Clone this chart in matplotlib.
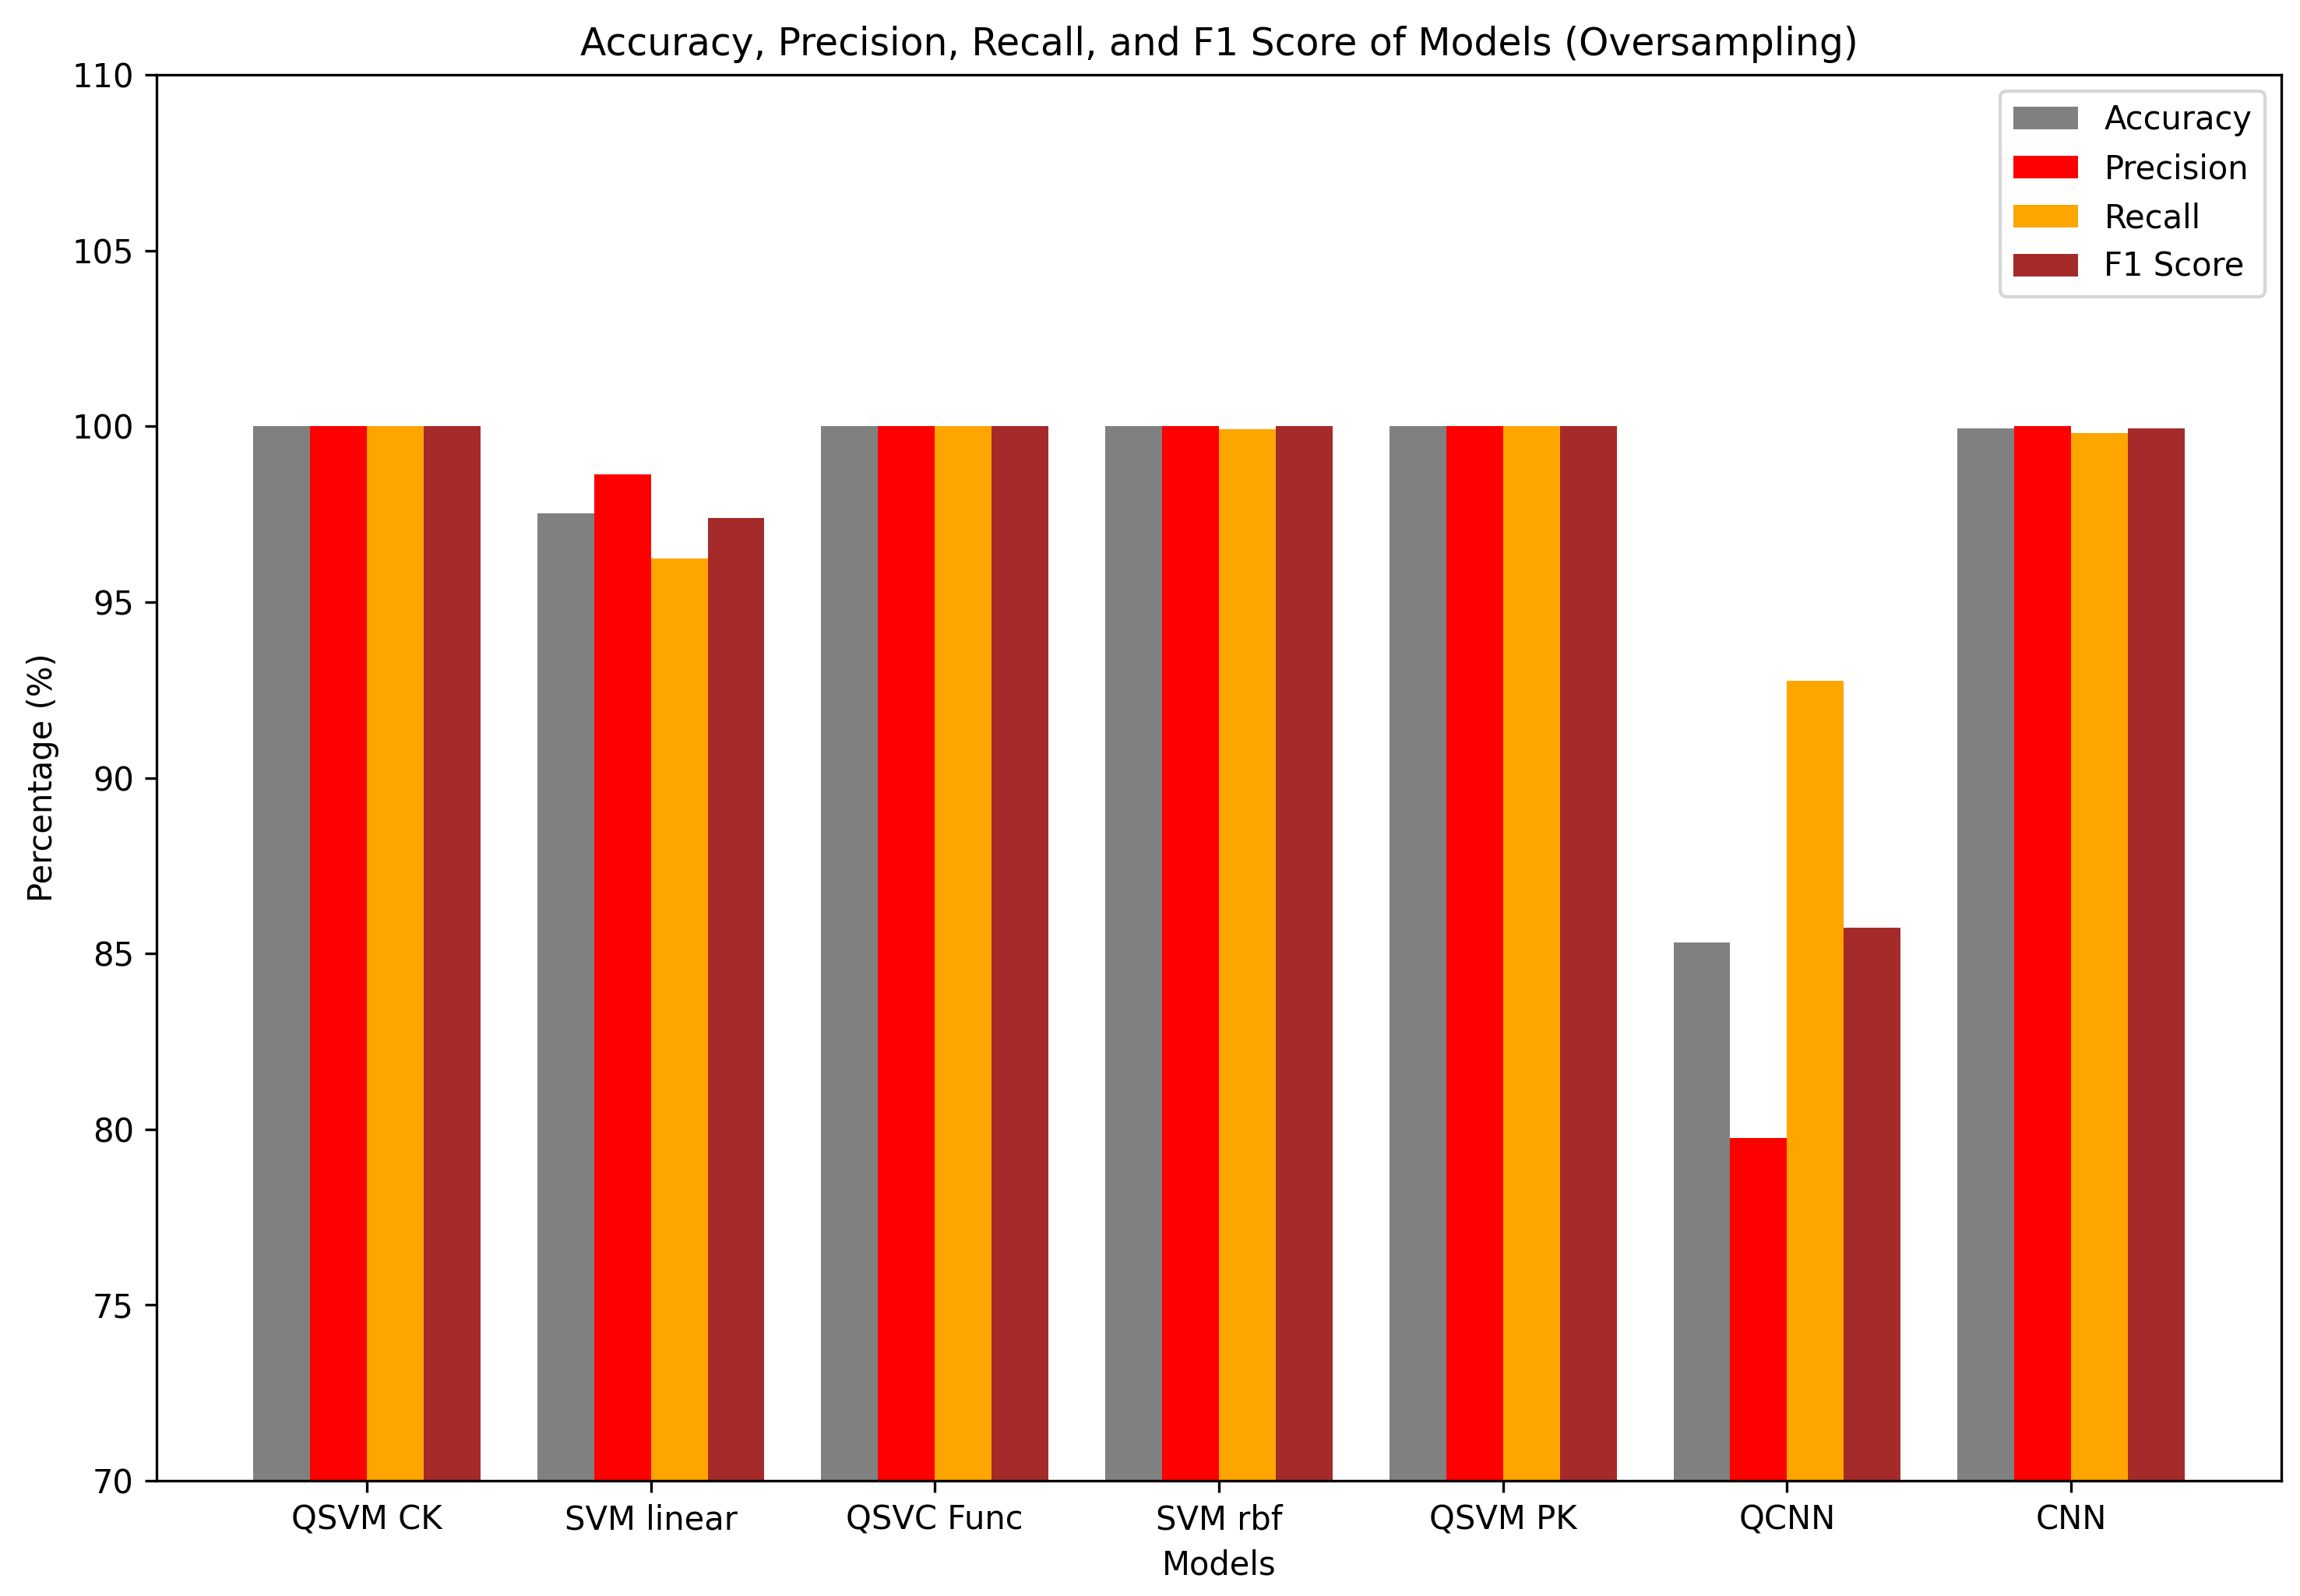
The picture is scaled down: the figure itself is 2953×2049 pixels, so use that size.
import numpy as np
import matplotlib
matplotlib.use("Agg")
import matplotlib.pyplot as plt

models = ["QSVM CK", "SVM linear", "QSVC Func", "SVM rbf", "QSVM PK", "QCNN", "CNN"]
accuracy = [100.0, 97.53, 100.0, 100.0, 100.0, 85.32, 99.93]
precision = [100.0, 98.63, 100.0, 100.0, 100.0, 79.75, 100.0]
recall = [100.0, 96.23, 100.0, 99.92, 100.0, 92.75, 99.81]
f1_score = [100.0, 97.40, 100.0, 100.0, 100.0, 85.73, 99.93]

series = [("Accuracy", accuracy, "gray"),
          ("Precision", precision, "red"),
          ("Recall", recall, "orange"),
          ("F1 Score", f1_score, "brown")]

fig = plt.figure(figsize=(2953 / 300, 2049 / 300), dpi=300)
ax = fig.add_axes([201 / 2953, 1 - 1901 / 2049, (2929 - 201) / 2953, (1901 - 96) / 2049])

x = np.arange(len(models))
w = 0.2
for i, (name, vals, col) in enumerate(series):
    ax.bar(x + (i - 1.5) * w, vals, w, label=name, color=col)

ax.set_ylim(70, 110)
ax.set_xticks(x)
ax.set_xticklabels(models)
ax.set_xlabel("Models")
ax.set_ylabel("Percentage (%)")
ax.set_title("Accuracy, Precision, Recall, and F1 Score of Models (Oversampling)", fontsize=11.7)
ax.legend(loc="upper right")

fig.savefig("out.png", dpi=300)
